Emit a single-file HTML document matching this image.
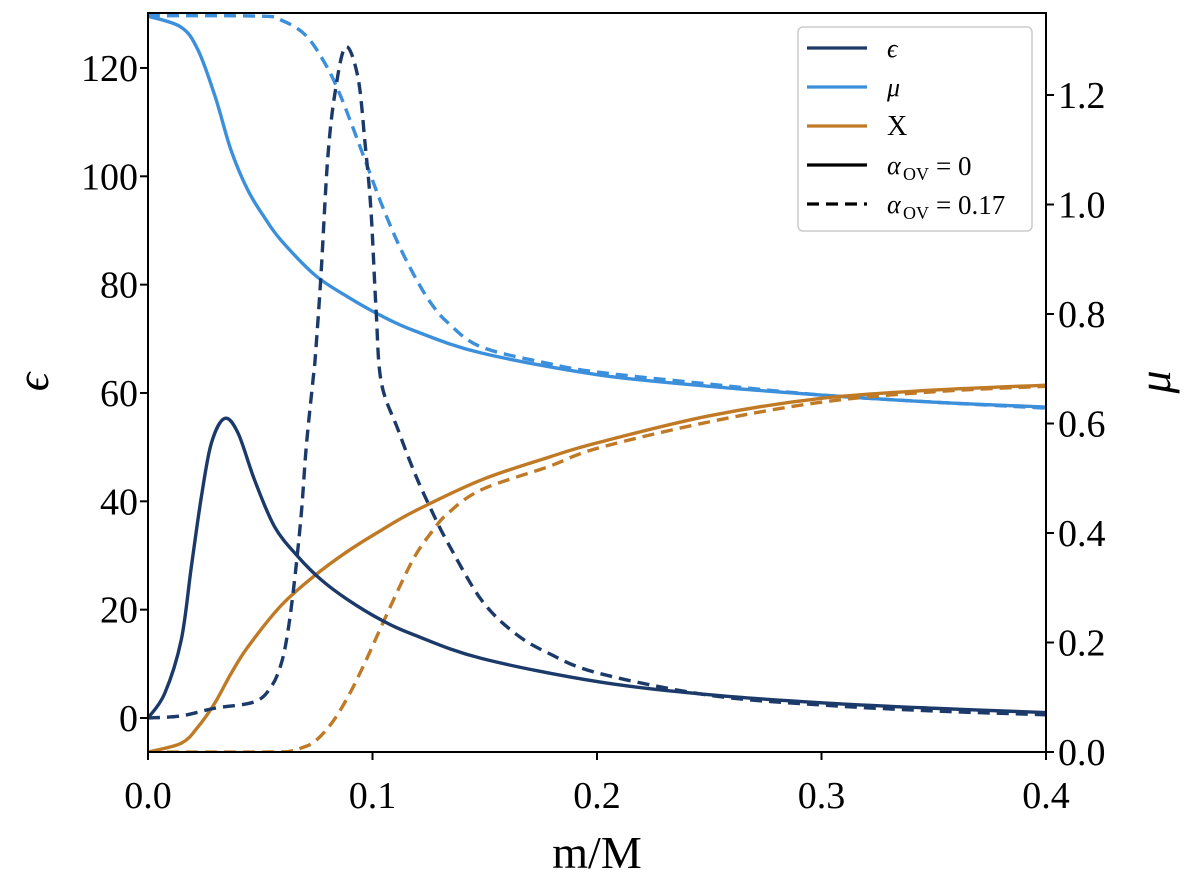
<!DOCTYPE html>
<html><head><meta charset="utf-8"><style>
body{margin:0;background:#fff}
svg text{font-family:"Liberation Serif",serif;fill:#000}
</style></head><body>
<svg id="chart" width="1200" height="889" xmlns="http://www.w3.org/2000/svg"></svg>
<script>
const xTicks=[0,0.1,0.2,0.3,0.4];
const xTickLabels=["0.0","0.1","0.2","0.3","0.4"];
const leftTicks=[0,20,40,60,80,100,120];
const rightTicks=[0,0.2,0.4,0.6,0.8,1.0,1.2];
const rightTickLabels=["0.0","0.2","0.4","0.6","0.8","1.0","1.2"];
const epsSolidX=[0,0.0074,0.0148,0.0193,0.0238,0.0282,0.0341,0.0401,0.0475,0.0564,0.0668,0.0772,0.0891,0.1039,0.1188,0.1485,0.2004,0.25,0.3,0.35,0.4];
const epsSolidY=[0,4.5,14.4,27.9,40.9,50.7,55.3,52.6,43.9,35.3,29.8,25.5,21.8,18.1,15.3,11.0,6.7,4.3,2.8,1.8,1.0];
const epsDashX=[0,0.0148,0.0297,0.0475,0.0549,0.0594,0.0624,0.0653,0.0683,0.0705,0.0735,0.0744,0.077,0.08,0.0833,0.088,0.0935,0.0967,0.0993,0.1016,0.1039,0.1114,0.1188,0.1262,0.1336,0.1485,0.1633,0.1782,0.2004,0.25,0.3,0.35,0.4];
const epsDashY=[0,0.4,1.8,3.0,5.8,10.1,16.2,25.5,37.8,50.1,62.4,66,81.4,103,115.4,123.9,118.3,106,93.8,75.3,62,53.2,45.2,38.4,32.3,21.8,15.7,12.0,8.3,4.2,2.4,1.3,0.6];
const muSolidX=[0,0.0147,0.0223,0.03,0.037,0.0445,0.0521,0.0592,0.0744,0.0891,0.1038,0.1189,0.1483,0.2004,0.25,0.3,0.35,0.4];
const muSolidY=[1.344,1.324,1.282,1.196,1.099,1.026,0.975,0.935,0.871,0.831,0.797,0.769,0.729,0.689,0.668,0.652,0.639,0.63];
const muDashX=[0,0.05,0.0592,0.07,0.0788,0.086,0.0967,0.1038,0.1114,0.1189,0.126,0.1336,0.1483,0.178,0.2,0.25,0.3,0.35,0.4];
const muDashY=[1.345,1.344,1.337,1.31,1.258,1.196,1.081,1.003,0.929,0.868,0.82,0.784,0.74,0.71,0.694,0.672,0.652,0.639,0.628];
const hSolidX=[0,0.0148,0.0223,0.0297,0.0371,0.0445,0.0594,0.0742,0.0891,0.1039,0.1188,0.1485,0.1782,0.2004,0.25,0.3,0.35,0.4];
const hSolidY=[0,0.016,0.046,0.089,0.144,0.192,0.268,0.322,0.367,0.405,0.44,0.497,0.538,0.565,0.614,0.646,0.661,0.67];
const hDashX=[0,0.055,0.0638,0.068,0.0742,0.0817,0.0891,0.0965,0.1039,0.1114,0.1188,0.1262,0.1336,0.1485,0.1782,0.2004,0.25,0.3,0.35,0.4];
const hDashY=[0,0,0.002,0.007,0.019,0.052,0.101,0.162,0.229,0.296,0.357,0.401,0.436,0.479,0.521,0.555,0.603,0.639,0.658,0.668];

const L=148,R=1046,T=13,B=752;
const xs=v=>L+(v/0.4)*(R-L);
const yl=v=>718-v*5.417;
const yr=v=>B-v*547.5;
const svg=document.getElementById('chart');
const NS='http://www.w3.org/2000/svg';
function mk(tag,attrs,parent){const e=document.createElementNS(NS,tag);for(const k in attrs)e.setAttribute(k,attrs[k]);(parent||svg).appendChild(e);return e;}

const defs=mk('clipPath',{id:'clip'});mk('rect',{x:L,y:T,width:R-L,height:B-T},defs);
const plot=mk('g',{'clip-path':'url(#clip)'});



function smooth(pts){
  let d='M'+pts[0][0]+','+pts[0][1];
  for(let i=0;i<pts.length-1;i++){
    const p0=pts[i-1]||pts[i],p1=pts[i],p2=pts[i+1],p3=pts[i+2]||p2;
    const c1=[p1[0]+(p2[0]-p0[0])/6,p1[1]+(p2[1]-p0[1])/6];
    const c2=[p2[0]-(p3[0]-p1[0])/6,p2[1]-(p3[1]-p1[1])/6];
    d+=` C${c1[0]},${c1[1]} ${c2[0]},${c2[1]} ${p2[0]},${p2[1]}`;
  }
  return d;
}
function series(xa,ya,yf,color,dash,name){
  const pts=xa.map((x,i)=>[xs(x),yf(ya[i])]);
  const p=mk('path',{d:smooth(pts),fill:'none',stroke:color,'stroke-width':3.4,'stroke-dasharray':dash?'12,7':'none'},plot);
  
  
}
const NAVY='#1b3a6a',BLUE='#3b8fdb',ORANGE='#c07a26';
series(muSolidX,muSolidY,yr,BLUE,false,'mu-line-solid');
series(muDashX,muDashY,yr,BLUE,true,'mu-line-dashed');
series(hSolidX,hSolidY,yr,ORANGE,false,'x-line-solid');
series(hDashX,hDashY,yr,ORANGE,true,'x-line-dashed');
series(epsSolidX,epsSolidY,yl,NAVY,false,'epsilon-line-solid');
series(epsDashX,epsDashY,yl,NAVY,true,'epsilon-line-dashed');

const frame=mk('rect',{x:L,y:T,width:R-L,height:B-T,fill:'none',stroke:'#000','stroke-width':2});



xTicks.forEach((v,i)=>{
  mk('line',{x1:xs(v),x2:xs(v),y1:B,y2:B+8,stroke:'#000','stroke-width':2});
  const t=mk('text',{x:xs(v),y:B+56,'font-size':38,'text-anchor':'middle'});t.textContent=xTickLabels[i];
  
  
});
leftTicks.forEach(v=>{
  mk('line',{x1:L-8,x2:L,y1:yl(v),y2:yl(v),stroke:'#000','stroke-width':2});
  const t=mk('text',{x:L-10,y:yl(v)+13,'font-size':38,'text-anchor':'end'});t.textContent=String(v);
  
  
});
rightTicks.forEach((v,i)=>{
  mk('line',{x1:R,x2:R+8,y1:yr(v),y2:yr(v),stroke:'#000','stroke-width':2});
  const t=mk('text',{x:R+12,y:yr(v)+13,'font-size':38,'text-anchor':'start'});t.textContent=rightTickLabels[i];
  
  
});
const xl=mk('text',{x:597,y:868,'font-size':46,'text-anchor':'middle'});xl.textContent='m/M';


const ylab=mk('text',{x:48,y:382,'font-size':46,'font-style':'italic','text-anchor':'middle',transform:'rotate(-90 48 382)'});ylab.textContent='ϵ';


const yrlab=mk('text',{x:1170,y:382,'font-size':46,'font-style':'italic','text-anchor':'middle',transform:'rotate(-90 1170 382)'});yrlab.textContent='μ';



const lg=mk('g',{});


mk('rect',{x:798,y:27,width:234,height:204,rx:5,fill:'#fff',stroke:'#ccc','stroke-width':1.5},lg);
const legendLabels=['ϵ','μ','X','α','α'];
const legendColors=[NAVY,BLUE,ORANGE,'#000','#000'];
legendLabels.forEach((lab,i)=>{
  const y=48+i*39;
  mk('line',{x1:807,x2:867,y1:y,y2:y,stroke:legendColors[i],'stroke-width':3.2,'stroke-dasharray':i==4?'12,7':'none'},lg);
  const g=mk('g',{},lg);
  
  
  const t=mk('text',{x:887,y:y+9,'font-size':i==2?28:26,'font-style':i==2?'normal':'italic'},g);
  t.textContent=lab;
  if(i>=3){
    const s=mk('text',{x:903,y:y+15,'font-size':18},g);s.textContent='OV';
    const e=mk('text',{x:936,y:y+10,'font-size':27},g);e.textContent=i==3?'= 0':'= 0.17';
  }
});
</script>
</body></html>
